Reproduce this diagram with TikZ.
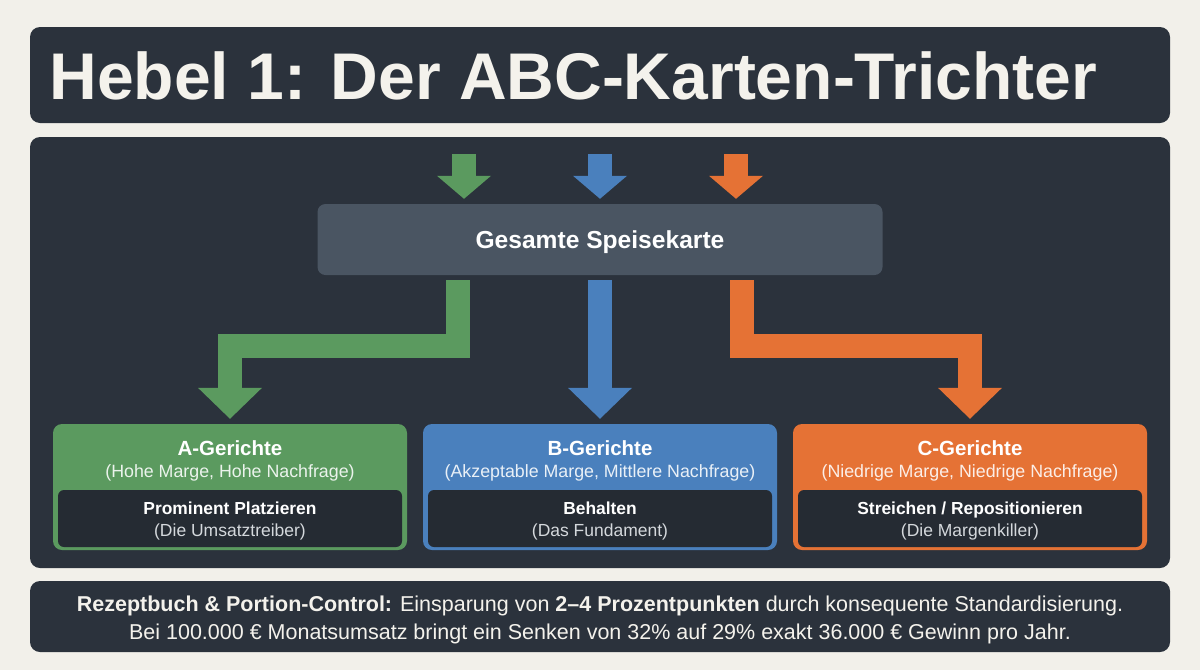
\documentclass[tikz,border=0pt]{standalone}
\usepackage{fontspec}
\setmainfont{Liberation Sans}
\usetikzlibrary{arrows.meta,positioning}

\definecolor{paper}{HTML}{F2F0EA}
\definecolor{panel}{HTML}{2B323C}
\definecolor{slate}{HTML}{4A5562}
\definecolor{inner}{HTML}{252B33}
\definecolor{agreen}{HTML}{5B9A5F}
\definecolor{bblue}{HTML}{4A80BD}
\definecolor{corange}{HTML}{E57235}
\definecolor{cream}{HTML}{F4F2EC}
\definecolor{soft}{HTML}{D4D8DC}

\tikzset{
  panelbox/.style={fill=panel,rounded corners=10pt,inner sep=0pt},
  catbox/.style={rounded corners=9pt,minimum width=354pt,minimum height=126pt,inner sep=0pt},
  tagbox/.style={fill=inner,rounded corners=6pt,minimum width=344pt,minimum height=57pt,inner sep=0pt},
  feed/.style={line width=24pt,shorten >=5pt,-{Triangle[width=54pt,length=23pt,line width=0pt]}},
  flow/.style={line width=24pt,line join=miter,shorten <=5pt,shorten >=5pt,-{Triangle[width=64pt,length=31pt,line width=0pt]}},
  cattitle/.style={anchor=base,font=\fontsize{20.5}{23}\selectfont\bfseries,text=white},
  catsub/.style={anchor=base,font=\fontsize{17.8}{20}\selectfont},
  tagtitle/.style={anchor=base,font=\fontsize{17.4}{20}\selectfont\bfseries,text=white},
  tagsub/.style={anchor=base,font=\fontsize{17.5}{20}\selectfont,text=soft},
  notetext/.style={anchor=base,font=\fontsize{21.5}{25}\selectfont,text=cream}
}

\begin{document}
\begin{tikzpicture}[>=Latex,x=1pt,y=-1pt]
\fill[paper] (0,0) rectangle (1200,670);
\useasboundingbox (0,0) rectangle (1200,670);

\node[panelbox,minimum width=1140pt,minimum height=96pt] (head) at (600,75) {};
\node[anchor=base west,font=\fontsize{66}{70}\selectfont\bfseries,text=cream] (title) at (46,99) {Hebel 1: Der ABC-Karten-Trichter};

\node[panelbox,minimum width=1140pt,minimum height=431pt] (stage) at (600,352.5) {};

\node[fill=slate,rounded corners=8pt,minimum width=565pt,minimum height=71pt,text depth=0pt,font=\fontsize{24.6}{28}\selectfont\bfseries,text=white] (menu) at (600,239.5) {Gesamte Speisekarte};

\coordinate (gfeed) at (464,154);
\coordinate (bfeed) at (600,154);
\coordinate (ofeed) at (736,154);
\draw[feed,agreen] (gfeed) -- (gfeed |- menu.north);
\draw[feed,bblue] (bfeed) -- (bfeed |- menu.north);
\draw[feed,corange] (ofeed) -- (ofeed |- menu.north);

\node[catbox,fill=agreen] (A) at (230,487) {};
\node[catbox,fill=bblue] (B) at (600,487) {};
\node[catbox,fill=corange] (C) at (970,487) {};
\node[tagbox] (Atag) at (230,518.5) {};
\node[tagbox] (Btag) at (600,518.5) {};
\node[tagbox] (Ctag) at (970,518.5) {};

\draw[flow,agreen] ([xshift=-142pt]menu.south) -- ++(0,71) -| (A.north);
\draw[flow,bblue] (menu.south) -- (A.north -| menu.south);
\draw[flow,corange] ([xshift=142pt]menu.south) -- ++(0,71) -| (C.north);

\node[cattitle] (Aname) at (230,455) {A-Gerichte};
\node[catsub,text=white!88!agreen] (Adesc) at (230,477) {(Hohe Marge, Hohe Nachfrage)};
\node[tagtitle] (Ado) at (230,514) {Prominent Platzieren};
\node[tagsub] (Awhy) at (230,536) {(Die Umsatztreiber)};

\node[cattitle] (Bname) at (600,455) {B-Gerichte};
\node[catsub,text=white!88!bblue] (Bdesc) at (600,477) {(Akzeptable Marge, Mittlere Nachfrage)};
\node[tagtitle] (Bdo) at (600,514) {Behalten};
\node[tagsub] (Bwhy) at (600,536) {(Das Fundament)};

\node[cattitle] (Cname) at (970,455) {C-Gerichte};
\node[catsub,text=white!88!corange] (Cdesc) at (970,477) {(Niedrige Marge, Niedrige Nachfrage)};
\node[tagtitle] (Cdo) at (970,514) {Streichen / Repositionieren};
\node[tagsub] (Cwhy) at (970,536) {(Die Margenkiller)};

\node[panelbox,minimum width=1140pt,minimum height=71pt] (note) at (600,616.5) {};
\node[notetext] (note1) at (600,611) {\textbf{Rezeptbuch \& Portion-Control:} Einsparung von \textbf{2–4 Prozentpunkten} durch konsequente Standardisierung.};
\node[notetext] (note2) at (600,639) {Bei 100.000 € Monatsumsatz bringt ein Senken von 32\% auf 29\% exakt 36.000 € Gewinn pro Jahr.};
\end{tikzpicture}
\end{document}
